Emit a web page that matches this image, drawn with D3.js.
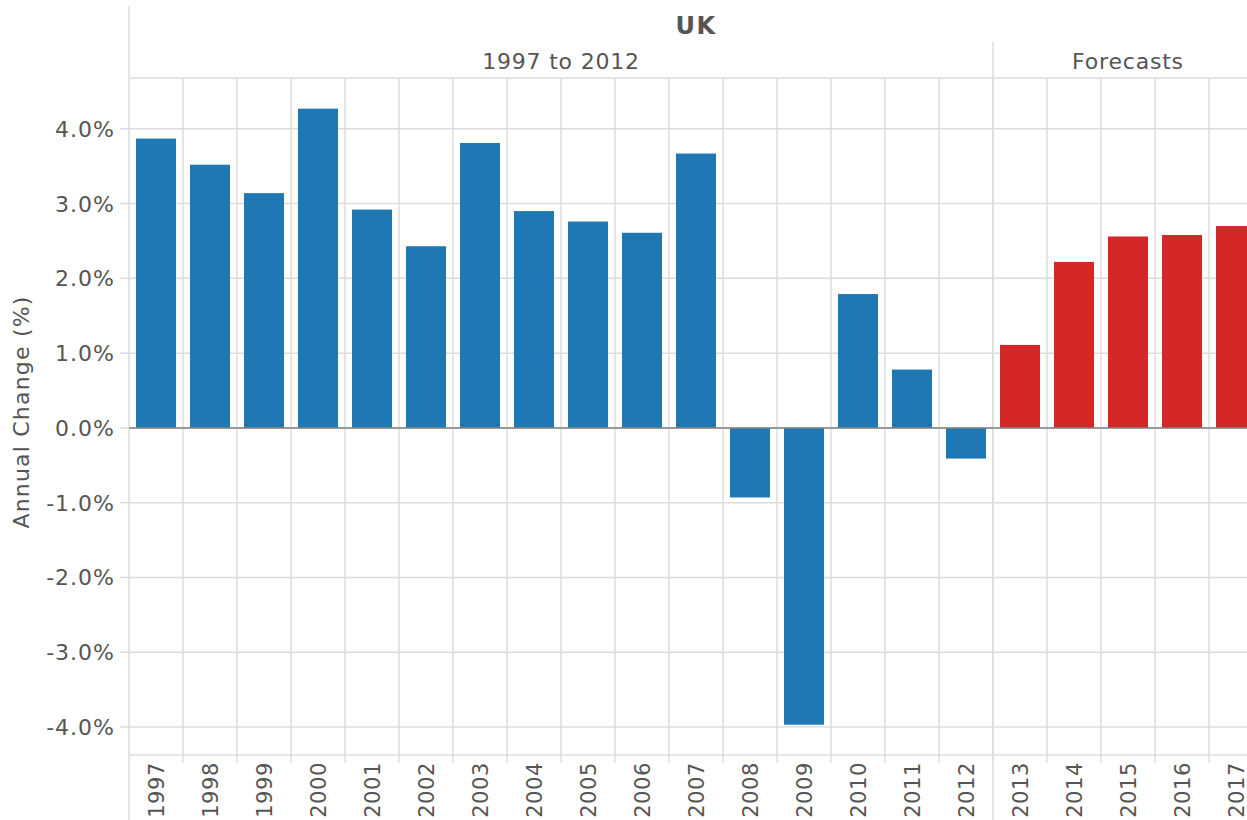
<!DOCTYPE html>
<html><head><meta charset="utf-8">
<script src="https://cdn.jsdelivr.net/npm/d3@7"></script>
<style>html,body{margin:0;padding:0;background:#fff;overflow:hidden}svg{display:block}</style>
</head><body>
<script>
const years = ["1997","1998","1999","2000","2001","2002","2003","2004","2005","2006","2007","2008","2009","2010","2011","2012","2013","2014","2015","2016","2017"];
const values = [3.87,3.52,3.14,4.27,2.92,2.43,3.81,2.90,2.76,2.61,3.67,-0.93,-3.97,1.79,0.78,-0.41,1.11,2.22,2.56,2.58,2.70];
const groups = ["1997 to 2012","1997 to 2012","1997 to 2012","1997 to 2012","1997 to 2012","1997 to 2012","1997 to 2012","1997 to 2012","1997 to 2012","1997 to 2012","1997 to 2012","1997 to 2012","1997 to 2012","1997 to 2012","1997 to 2012","1997 to 2012","Forecasts","Forecasts","Forecasts","Forecasts","Forecasts"];
const groupNames = ["1997 to 2012","Forecasts"];
const yTicks = [-4,-3,-2,-1,0,1,2,3,4];
const chartTitle = "UK";
const yTitle = "Annual Change (%)";

(function(){
const W = 1247, H = 820;
const left = 129, plotTop = 78, plotBottom = 755, step = 54;
const font = "'DejaVu Sans', Verdana, sans-serif";
const textCol = "#555";
const grid = "#dcdcdc";
const colors = {"1997 to 2012":"#1f77b4","Forecasts":"#d62728"};

const svg = d3.select("body").append("svg").attr("width",W).attr("height",H)
  .style("font-family",font);

const x = d3.scaleBand().domain(years).range([left, left + years.length*step])
  .paddingInner(14/54).paddingOuter(7/54);
const y = d3.scaleLinear().domain([-4.375, 4.68]).range([plotBottom, plotTop]);

// horizontal gridlines
svg.append("g").selectAll("line").data(yTicks).join("line")
  .attr("x1",left).attr("x2",W).attr("y1",d=>y(d)).attr("y2",d=>y(d))
  .attr("stroke",grid).attr("stroke-width",1.5);

// vertical column gridlines
const bounds = years.map((d,i)=> left + i*step).concat([left+years.length*step]);
svg.append("g").selectAll("line").data(bounds.slice(1)).join("line")
  .attr("x1",d=>d).attr("x2",d=>d).attr("y1",plotTop).attr("y2",plotBottom+8)
  .attr("stroke",grid).attr("stroke-width",1.5);

// header lines
svg.append("line").attr("x1",left).attr("x2",W).attr("y1",plotTop).attr("y2",plotTop).attr("stroke",grid).attr("stroke-width",1.5);
svg.append("line").attr("x1",left).attr("x2",W).attr("y1",plotBottom).attr("y2",plotBottom).attr("stroke",grid).attr("stroke-width",1.5);

// group divider
const firstForecast = groups.indexOf("Forecasts");
const divX = x(years[firstForecast]) - x.step()*x.paddingInner()/2;
svg.append("line").attr("x1",divX).attr("x2",divX).attr("y1",42).attr("y2",H).attr("stroke",grid).attr("stroke-width",1.5);

// left axis line
svg.append("line").attr("x1",left).attr("x2",left).attr("y1",6).attr("y2",H).attr("stroke",grid).attr("stroke-width",1.5);

// y axis ticks and labels
const fmt = d => d3.format(".1f")(d).replace("\u2212","-")+"%";
const yAxis = svg.append("g");
yAxis.selectAll("line").data(yTicks).join("line")
  .attr("x1",left-9).attr("x2",left).attr("y1",d=>y(d)).attr("y2",d=>y(d))
  .attr("stroke",grid).attr("stroke-width",1.5);
yAxis.selectAll("text").data(yTicks).join("text")
  .attr("x",115).attr("y",d=>y(d)).attr("dy","0.36em").attr("text-anchor","end")
  .attr("fill",textCol).attr("font-size",22).style("letter-spacing","1px")
  .text(fmt);

// y title
svg.append("text").attr("transform","translate(29,412) rotate(-90)")
  .attr("text-anchor","middle").attr("fill",textCol).attr("font-size",22)
  .style("letter-spacing","1.2px")
  .text(yTitle);

// bars
svg.append("g").selectAll("rect").data(years).join("rect")
  .attr("x",d=>x(d)).attr("width",x.bandwidth())
  .attr("y",(d,i)=>y(Math.max(0,values[i])))
  .attr("height",(d,i)=>Math.abs(y(values[i])-y(0)))
  .attr("fill",(d,i)=>colors[groups[i]]);

// zero line
svg.append("line").attr("x1",left).attr("x2",W).attr("y1",y(0)).attr("y2",y(0))
  .attr("stroke","#808080").attr("stroke-width",1.5);

// year labels
svg.append("g").selectAll("text").data(years).join("text")
  .attr("transform",d=>`translate(${x(d)+x.bandwidth()/2},762) rotate(-90)`)
  .attr("dy","0.36em").attr("text-anchor","end").attr("fill",textCol).attr("font-size",21)
  .style("letter-spacing","0.6px")
  .text(d=>d);

// titles
const fullEnd = left + years.length*step;
svg.append("text").attr("x",(left+fullEnd)/2).attr("y",25).attr("dy","0.36em")
  .attr("text-anchor","middle").attr("fill",textCol).attr("font-size",24).attr("font-weight","bold")
  .style("letter-spacing","1.5px")
  .text(chartTitle);
const gExt = groupNames.map(g=>{
  const idx = years.filter((d,i)=>groups[i]===g);
  return {g, x0: x(idx[0]) - x.step()*x.paddingInner()/2, x1: x(idx[idx.length-1]) + x.bandwidth() + x.step()*x.paddingInner()/2};
});
svg.append("g").selectAll("text").data(gExt).join("text")
  .attr("x",d=>(d.x0+d.x1)/2).attr("y",61).attr("dy","0.36em").attr("text-anchor","middle")
  .attr("fill",textCol).attr("font-size",22).style("letter-spacing","0.8px").text(d=>d.g);
})();
</script>
</body></html>
